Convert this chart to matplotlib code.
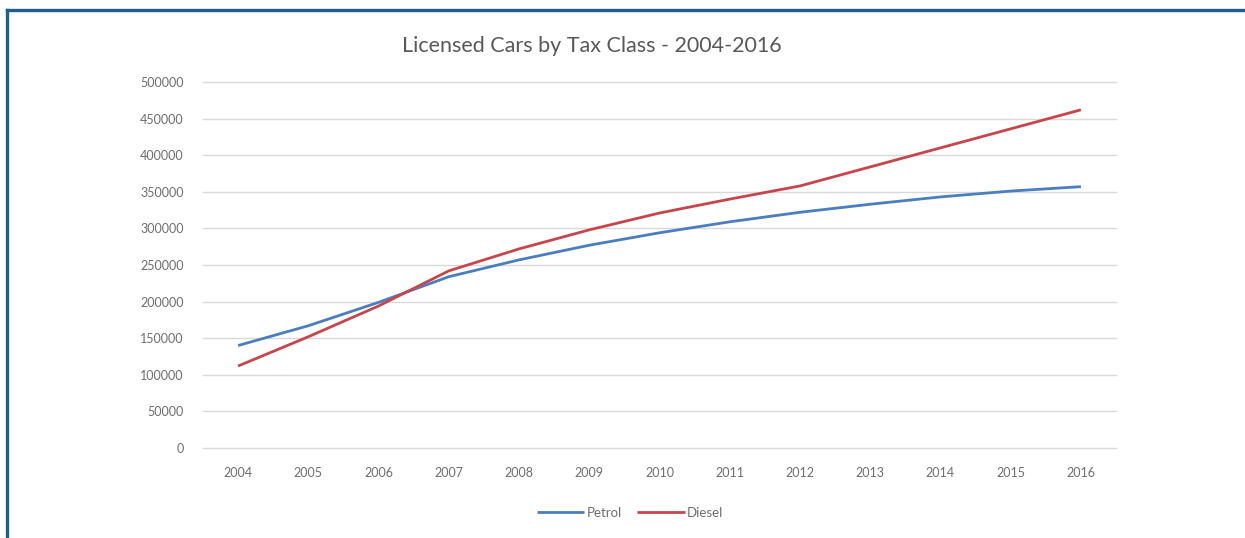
import matplotlib
matplotlib.use("Agg")
import matplotlib.pyplot as plt
from matplotlib.lines import Line2D

years = ["2004", "2005", "2006", "2007", "2008", "2009", "2010",
         "2011", "2012", "2013", "2014", "2015", "2016"]
petrol = [140000, 167000, 199000, 234000, 257000, 277000, 294000,
          309000, 322000, 333000, 343000, 351000, 357000]
diesel = [112000, 152000, 194000, 242000, 272000, 298000, 321000,
          340000, 358000, 384000, 410000, 436000, 462000]
y_ticks = list(range(0, 500001, 50000))

plt.rcParams["font.family"] = ["Lato", "DejaVu Sans"]

W, H = 1245, 538
fig = plt.figure(figsize=(W / 100, H / 100), dpi=100)
fig.patch.set_facecolor("white")

ax = fig.add_axes([203 / W, 1 - 448 / H, (1116 - 203) / W, (448 - 82) / H])

x = list(range(len(years)))
ax.plot(x, petrol, color="#4a7ebf", linewidth=2.0, label="Petrol", solid_capstyle="butt")
ax.plot(x, diesel, color="#c8464b", linewidth=2.0, label="Diesel", solid_capstyle="butt")

ax.set_xlim(-0.5, len(years) - 0.5)
ax.set_ylim(0, 500000)
ax.set_yticks(y_ticks)
ax.set_yticklabels([str(v) for v in y_ticks])
ax.set_xticks(x)
ax.set_xticklabels(years)

ax.grid(axis="y", color="#d9d9d9", linewidth=1.0)
for gl in ax.get_ygridlines():
    gl.set_clip_on(False)
ax.set_axisbelow(True)
for s in ax.spines.values():
    s.set_visible(False)
ax.tick_params(axis="both", length=0, colors="#6e6e6e", labelsize=9)
ax.tick_params(axis="y", pad=14)
ax.tick_params(axis="x", pad=14)

fig.text(592 / W, 1 - 46 / H, "Licensed Cars by Tax Class - 2004-2016",
         ha="center", va="center", fontsize=15.5, color="#595959")

leg = fig.legend(loc="center", bbox_to_anchor=(630 / W, 1 - 513 / H), ncol=2,
                 frameon=False, fontsize=9.5, handlelength=3.6, handletextpad=0.15,
                 columnspacing=1.2)
for t in leg.get_texts():
    t.set_color("#6e6e6e")

# frame lines
fig.add_artist(Line2D([7 / W, 1.0], [1 - 10 / H, 1 - 10 / H], transform=fig.transFigure,
                      color="#1b6088", linewidth=2.4))
fig.add_artist(Line2D([7 / W, 7 / W], [1 - 10 / H, 0.0], transform=fig.transFigure,
                      color="#1b6088", linewidth=2.4))

fig.savefig("out.png", dpi=100)
